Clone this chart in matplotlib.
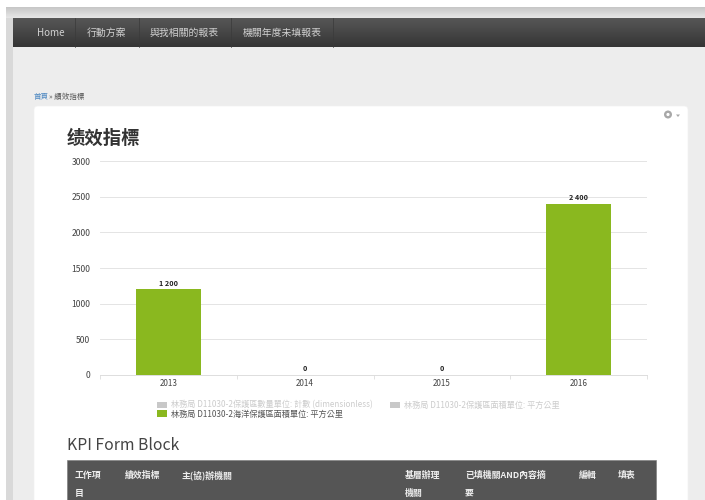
#!/usr/bin/env python3
"""KPI page: dark nav bar, white card, yearly bar chart and the table header below it."""

import matplotlib
matplotlib.use("Agg")
import matplotlib.pyplot as plt
from matplotlib.patches import FancyBboxPatch, Rectangle, Circle, Polygon
import numpy as np

plt.rcParams["font.family"] = ["Noto Sans CJK TC", "Noto Sans CJK SC", "DejaVu Sans"]

W, H = 705, 500

years = ["2013", "2014", "2015", "2016"]
area_values = [1200, 0, 0, 2400]
value_labels = ["1 200", "0", "0", "2 400"]
y_ticks = [0, 500, 1000, 1500, 2000, 2500, 3000]

nav_items = ["Home", "行動方案", "與我相關的報表", "機關年度未填報表"]
nav_x = [37, 87, 150, 243]
nav_dividers = [75, 139, 231, 333]

legend_hidden = ["林務局 D11030-2保護區數量單位: 計數 (dimensionless)",
                 "林務局 D11030-2保護區面積單位: 平方公里"]
legend_active = "林務局 D11030-2海洋保護區面積單位: 平方公里"

table_heads = [("工作項", 75, 478), ("目", 75, 496), ("績效指標", 125, 478),
               ("主(協)辦機關", 181, 478), ("基層辦理", 405, 478), ("機關", 405, 496),
               ("已填機關AND內容摘", 465, 478), ("要", 465, 496),
               ("編輯", 579, 478), ("填表", 618, 478)]

GREEN = "#8ab81f"


def draw_page(ax):
    """Page background, nav bar, breadcrumb, card and the text blocks on the card."""
    ax.add_patch(Rectangle((6, 8), W, H, fc="#d9d9d9", ec="none", zorder=0))
    ax.add_patch(Rectangle((13, 18), W, H, fc="#ededed", ec="none", zorder=0.5))

    # soft shadow band above the nav bar
    band = np.linspace(0.78, 0.90, 12).reshape(-1, 1)
    ax.imshow(band, extent=(6, W, 18, 7), cmap="gray", vmin=0, vmax=1,
              aspect="auto", zorder=0.6)

    # nav bar, fake gradient from stacked strips
    grad = np.linspace(0.34, 0.21, 32).reshape(-1, 1)
    ax.imshow(grad, extent=(13, W, 47, 18), cmap="gray", vmin=0, vmax=1,
              aspect="auto", zorder=1)
    for x in nav_dividers:
        ax.plot([x, x], [18, 47], color="#3a3a3a", lw=0.5, zorder=2)
    for label, x in zip(nav_items, nav_x):
        ax.text(x, 32.5, label, color="#d0d0d0", fontsize=7.1, va="center", zorder=3)

    ax.text(34, 96.5, "首頁", color="#4a86c0", fontsize=5.4, va="center")
    ax.text(49, 96.5, "» 績效指標", color="#555555", fontsize=5.4, va="center")

    ax.add_patch(FancyBboxPatch((37, 109), 648, 420,
                                boxstyle="round,pad=3,rounding_size=4",
                                fc="white", ec="#f2f2f2", lw=0.5, zorder=1))

    ax.text(67, 138, "绩效指標", color="#333333", fontsize=13.2, fontweight="bold",
            va="center", zorder=3)

    # settings gear at the card corner
    ax.add_patch(Circle((668, 114.5), 4, fc="#a8a8a8", ec="none", zorder=3))
    ax.add_patch(Circle((668, 114.5), 1.6, fc="white", ec="none", zorder=4))
    ax.add_patch(Polygon([(676, 114.5), (680, 114.5), (678, 117)], fc="#a8a8a8",
                         ec="none", zorder=3))

    # legend
    ax.add_patch(Rectangle((157, 402), 10, 6, fc="#c8c8c8", ec="none", zorder=3))
    ax.text(171, 405, legend_hidden[0], color="#cccccc", fontsize=5.9, va="center", zorder=3)
    ax.add_patch(Rectangle((390, 402), 10, 6, fc="#c8c8c8", ec="none", zorder=3))
    ax.text(404, 405, legend_hidden[1], color="#cccccc", fontsize=5.9, va="center", zorder=3)
    ax.add_patch(Rectangle((157, 410), 10, 7, fc=GREEN, ec="none", zorder=3))
    ax.text(171, 414, legend_active, color="#555555", fontsize=5.9, va="center", zorder=3)

    ax.text(67, 445, "KPI Form Block", color="#444444", fontsize=11.3, va="center", zorder=3)

    ax.add_patch(Rectangle((67, 460), 589, 40, fc="#555555", ec="#777777", lw=0.4, zorder=3))
    for label, x, y in table_heads:
        ax.text(x, y, label, color="#eeeeee", fontsize=6.4, fontweight="bold",
                va="baseline", zorder=4)


def draw_chart(ax):
    """Yearly bars with value labels."""
    x = np.arange(len(years))
    ax.bar(x, area_values, width=0.48, color=GREEN, zorder=3)
    for xi, v, label in zip(x, area_values, value_labels):
        ax.annotate(label, (xi, v), xytext=(0, 2), textcoords="offset points",
                    ha="center", va="bottom", fontsize=5.2, fontweight="bold", color="#222222")

    ax.set_xlim(-0.5, 3.5)
    ax.set_ylim(0, 3000)
    ax.set_xticks(x, years)
    ax.set_xticks(np.arange(-0.5, 4), minor=True)
    ax.set_yticks(y_ticks)
    ax.tick_params(axis="x", which="major", length=0, labelsize=5.8, labelcolor="#444444", pad=3)
    ax.tick_params(axis="x", which="minor", length=3, color="#dddddd", width=0.6)
    ax.tick_params(axis="y", length=0, labelsize=6.2, labelcolor="#444444", pad=7)
    ax.grid(axis="y", color="#e4e4e4", lw=0.7, zorder=0)
    ax.set_axisbelow(True)
    for side in ("top", "right", "left"):
        ax.spines[side].set_visible(False)
    ax.spines["bottom"].set_color("#dddddd")
    ax.spines["bottom"].set_linewidth(0.7)
    ax.patch.set_alpha(0)


def main():
    fig = plt.figure(figsize=(W / 100, H / 100), dpi=100, facecolor="white")

    page = fig.add_axes([0, 0, 1, 1])
    page.set_xlim(0, W)
    page.set_ylim(H, 0)
    page.axis("off")
    draw_page(page)
    page.set_xlim(0, W)
    page.set_ylim(H, 0)

    # plot area in page pixels: x 100..647, y 161..375
    chart = fig.add_axes([100 / W, 1 - 375 / H, 547 / W, 214 / H])
    draw_chart(chart)

    fig.savefig("out.png", dpi=100)
    plt.close(fig)


if __name__ == "__main__":
    main()
